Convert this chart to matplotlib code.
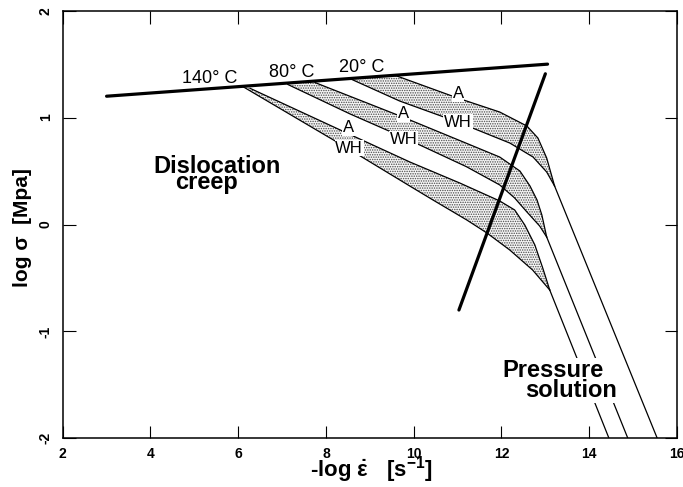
import matplotlib
matplotlib.use("Agg")
import matplotlib.pyplot as plt

plt.rcParams['font.family'] = ['Liberation Sans', 'DejaVu Sans']
plt.rcParams['axes.unicode_minus'] = False
plt.rcParams['mathtext.fontset'] = 'custom'
plt.rcParams['mathtext.rm'] = 'Liberation Sans:bold'
plt.rcParams['mathtext.it'] = 'Liberation Sans:bold'
plt.rcParams['mathtext.bf'] = 'Liberation Sans:bold'
plt.rcParams['hatch.linewidth'] = 0.7

# ---- data ----
# boundary between dislocation creep and the shaded fields (thick line)
boundary_x = [3.0, 13.05]
boundary_y = [1.2, 1.5]
# thick steep line
steep_x = [11.03, 13.0]
steep_y = [-0.8, 1.41]

temps = ['140° C', '80° C', '20° C']

# upper curves (A)
A140_x = [6.27, 8.52, 9.91, 11.05, 11.96, 12.30, 12.53, 12.76, 12.94, 13.10]
A140_y = [1.274, 0.847, 0.585, 0.388, 0.220, 0.136, -0.004, -0.191, -0.407, -0.613]
A80_x = [7.75, 9.75, 11.20, 11.96, 12.42, 12.65, 12.81, 12.92, 13.03]
A80_y = [1.328, 1.005, 0.760, 0.631, 0.500, 0.360, 0.229, 0.089, -0.117]
A20_x = [9.57, 11.0, 11.96, 12.58, 12.83, 13.03, 13.21]
A20_y = [1.396, 1.183, 1.052, 0.921, 0.809, 0.622, 0.36]

# lower curves (WH)
WH140_x = [6.11, 8.52, 9.91, 10.44, 11.21, 11.67, 12.19, 12.71, 13.10]
WH140_y = [1.289, 0.706, 0.360, 0.229, 0.042, -0.080, -0.239, -0.426, -0.613]
WH80_x = [7.13, 8.55, 9.75, 11.20, 11.96, 12.30, 12.58, 12.87, 13.03]
WH80_y = [1.310, 1.034, 0.818, 0.541, 0.370, 0.248, 0.117, -0.014, -0.117]
WH20_x = [8.55, 9.68, 11.0, 12.19, 12.72, 13.03, 13.21]
WH20_y = [1.364, 1.155, 0.959, 0.762, 0.631, 0.491, 0.36]

# pressure solution branches (from merge point to bottom)
PS140_x = [13.10, 14.45]
PS140_y = [-0.613, -2.0]
PS80_x = [13.03, 14.88]
PS80_y = [-0.117, -2.0]
PS20_x = [13.21, 15.55]
PS20_y = [0.36, -2.0]

xticks = [2, 4, 6, 8, 10, 12, 14, 16]
yticks = [-2, -1, 0, 1, 2]

# ---- figure ----
W, H = 683, 487
fig = plt.figure(figsize=(W / 100, H / 100), dpi=100)
L, R, T, B = 62.7, 677.0, 10.7, 438.3
ax = fig.add_axes([L / W, 1 - B / H, (R - L) / W, (B - T) / H])
ax.set_xlim(2, 16)
ax.set_ylim(-2, 2)

bands = [(A140_x, A140_y, WH140_x, WH140_y, PS140_x, PS140_y),
         (A80_x, A80_y, WH80_x, WH80_y, PS80_x, PS80_y),
         (A20_x, A20_y, WH20_x, WH20_y, PS20_x, PS20_y)]
for ax_, ay_, wx_, wy_, px_, py_ in bands:
    poly_x = list(ax_) + list(wx_)[::-1]
    poly_y = list(ay_) + list(wy_)[::-1]
    ax.fill(poly_x, poly_y, facecolor='#f6f6f6', edgecolor='#4a4a4a',
            hatch='.......', linewidth=0, zorder=1)
    ax.plot(ax_, ay_, color='black', lw=0.9, zorder=2)
    ax.plot(wx_, wy_, color='black', lw=0.9, zorder=2)
    ax.plot(px_, py_, color='black', lw=0.9, zorder=2)

ax.plot(boundary_x, boundary_y, color='black', lw=2.3, solid_capstyle='round', zorder=5)
ax.plot(steep_x, steep_y, color='black', lw=2.3, solid_capstyle='round', zorder=5)

# temperature labels
temp_pos = [(5.36, 1.324), (7.21, 1.380), (8.81, 1.427)]
for t, (x, y) in zip(temps, temp_pos):
    ax.text(x, y, t, ha='center', va='baseline', fontsize=13, zorder=6)

lab_bbox = dict(facecolor='white', edgecolor='none', pad=0.6)
A_pos = [(8.52, 0.868), (9.76, 0.993), (11.01, 1.18)]
WH_pos = [(8.53, 0.672), (9.77, 0.753), (11.01, 0.909)]
for (x, y) in A_pos:
    ax.text(x, y, 'A', ha='center', va='baseline', fontsize=12, bbox=lab_bbox, zorder=4)
for (x, y) in WH_pos:
    ax.text(x, y, 'WH', ha='center', va='baseline', fontsize=12, bbox=lab_bbox, zorder=4)

ax.text(4.06, 0.48, 'Dislocation', ha='left', va='baseline', fontsize=17,
        fontweight='bold', zorder=6)
ax.text(4.56, 0.332, 'creep', ha='left', va='baseline', fontsize=17,
        fontweight='bold', zorder=6)
txt_bbox = dict(facecolor='white', edgecolor='none', pad=0.5)
ax.text(12.03, -1.427, 'Pressure', ha='left', va='baseline', fontsize=17,
        fontweight='bold', bbox=txt_bbox, zorder=6)
ax.text(12.53, -1.614, 'solution', ha='left', va='baseline', fontsize=17,
        fontweight='bold', bbox=txt_bbox, zorder=6)

# axes styling
ax.set_xticks(xticks)
ax.set_yticks(yticks)
ax.set_xticklabels([str(v) for v in xticks], fontsize=10, fontweight='bold')
ax.set_yticklabels([str(v) for v in yticks], fontsize=10, fontweight='bold',
                   rotation=90, va='center')
ax.tick_params(axis='both', which='both', direction='in', length=9, width=0.8,
               top=True, right=True)
ax.tick_params(axis='x', pad=6)
ax.tick_params(axis='y', pad=7)
for s in ax.spines.values():
    s.set_linewidth(1.1)

ax.set_xlabel(r'-log $\dot{\varepsilon}$   [s$^{-1}$]', fontsize=16, fontweight='bold')
ax.xaxis.set_label_coords(0.502, -0.0905)
ax.xaxis.label.set_va('baseline')
ax.set_ylabel('log σ  [Mpa]', fontsize=15, fontweight='bold')
ax.yaxis.set_label_coords(-0.0557, 0.492)
ax.yaxis.label.set_va('baseline')

fig.savefig('out.png', dpi=100)
